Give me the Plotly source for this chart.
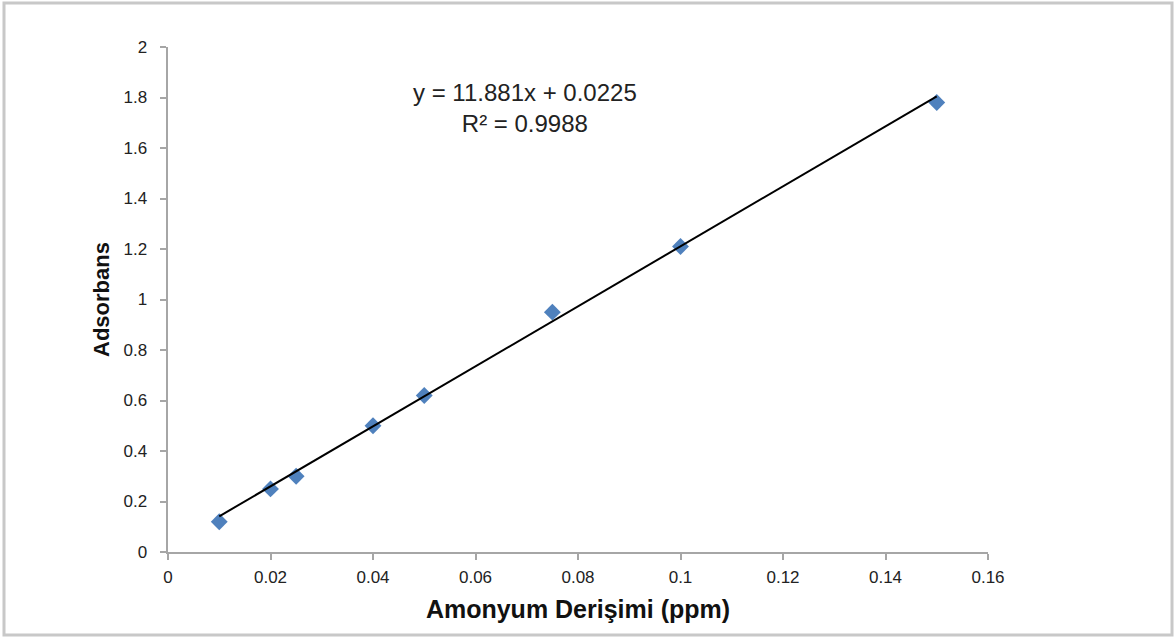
import plotly.graph_objects as go

conc = [0.01, 0.02, 0.025, 0.04, 0.05, 0.075, 0.1, 0.15]
absorb = [0.12, 0.25, 0.30, 0.50, 0.62, 0.95, 1.21, 1.78]
slope = 11.881
intercept = 0.0225
r2 = 0.9988

x_fit = [min(conc), max(conc)]
y_fit = [slope * v + intercept for v in x_fit]

fig = go.Figure()
fig.add_trace(go.Scatter(
    x=conc, y=absorb, mode="markers",
    marker=dict(symbol="diamond", size=13, color="#4F81BD", line=dict(width=0)),
    showlegend=False, cliponaxis=False))
fig.add_trace(go.Scatter(
    x=x_fit, y=y_fit, mode="lines",
    line=dict(color="black", width=2),
    showlegend=False))

font = "Liberation Sans, Arial, sans-serif"
axis_common = dict(
    showgrid=False, zeroline=False, showline=True, linecolor="#a6a6a6", linewidth=2,
    ticks="outside", ticklen=6, tickcolor="#a6a6a6", tickwidth=2,
    tickfont=dict(family=font, size=17, color="#222"),
)
fig.update_xaxes(range=[0, 0.16], dtick=0.02, tick0=0, ticklabelstandoff=3,
                 title=dict(text="<b>Amonyum Derişimi (ppm)</b>",
                            font=dict(family=font, size=25, color="#111"), standoff=14),
                 **axis_common)
fig.update_yaxes(range=[0, 2], dtick=0.2, tick0=0, ticksuffix="\u00a0\u00a0",
                 title=dict(text="<b>Adsorbans</b>",
                            font=dict(family=font, size=22, color="#111"), standoff=8),
                 **axis_common)

fig.add_annotation(
    x=0.435, y=(552 - 108) / 505, xref="paper", yref="paper", showarrow=False,
    yanchor="middle",
    text=f"y = {slope}x + {intercept}<br>R² = {r2}",
    font=dict(family=font, size=24, color="#222"), align="center")

fig.add_shape(type="rect", xref="paper", yref="paper",
              x0=-0.2, x1=1.2244, y0=-0.1644, y1=1.0871,
              line=dict(color="#c8c8c8", width=3))

fig.update_layout(
    width=1176, height=639,
    margin=dict(l=168, r=188, t=47, b=87),
    paper_bgcolor="white", plot_bgcolor="white",
)

fig.write_html("out.html")
